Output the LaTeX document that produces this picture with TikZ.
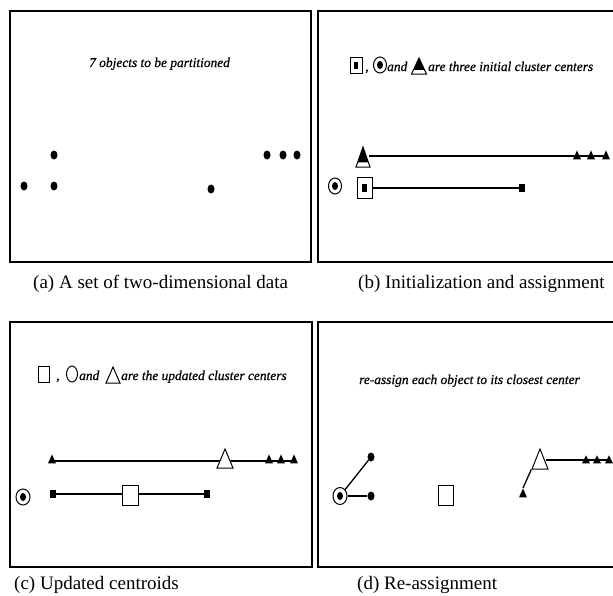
\documentclass[tikz,border=0pt]{standalone}
\usepackage{fontspec}
\setmainfont{Liberation Serif}
\newfontfamily\noteitfont[FakeBold=0.6]{Liberation Serif Italic}
\usetikzlibrary{shapes.geometric}
\begin{document}
\begin{tikzpicture}[x=1pt,y=-1pt,
  panel/.style={draw, line width=1.4pt},
  conn/.style={line width=1.3pt},
  note/.style={inner sep=0pt, anchor=base west, font=\fontsize{13.4}{15}\selectfont\noteitfont},
  capt/.style={inner sep=0pt, anchor=base west, font=\fontsize{19}{22}\selectfont},
  dot/.style={ellipse, fill=black, minimum width=7pt, minimum height=9pt, inner sep=0pt},
  sq/.style={rectangle, fill=black, minimum width=6pt, minimum height=8pt, inner sep=0pt},
  tri/.style={isosceles triangle, isosceles triangle apex angle=60, shape border rotate=90,
    isosceles triangle stretches, fill=black, minimum width=8pt, minimum height=9pt, inner sep=0pt, anchor=apex},
  bigtri/.style={tri, fill=white, draw, line width=1pt, minimum width=16pt, minimum height=19pt},
  bigsq/.style={rectangle, draw, line width=1pt, fill=white, minimum width=15pt, minimum height=20pt, inner sep=0pt},
  cdot/.style={ellipse, draw, line width=1pt, fill=white, minimum width=13pt, minimum height=16pt, inner sep=0pt,
    path picture={\fill[black] (path picture bounding box.center) ellipse [x radius=3pt, y radius=4pt];}},
  sqdot/.style={bigsq, minimum width=15pt, minimum height=21pt},
  sqin/.style={sq, minimum width=5pt, minimum height=8pt},
]
\useasboundingbox (0,0) rectangle (613,595);
\clip (0,0) rectangle (613,595);
\fill[white] (0,0) rectangle (613,595);

% panels
\draw[panel] (10,11) rectangle (311,262);
\draw[panel] (318,11) rectangle (625,262);
\draw[panel] (10,322) rectangle (312,567);
\draw[panel] (318,322) rectangle (625,567);

% captions
\node[capt] (capa) at (33,288) {(a) A set of two-dimensional data};
\node[capt] (capb) at (358,288) {(b) Initialization and assignment};
\node[capt] (capc) at (14,589) {(c) Updated centroids};
\node[capt] (capd) at (357,589) {(d) Re-assignment};

% ---------- panel (a)
\node[note] (ta) at (89,67) {7 objects to be partitioned};
\node[dot] (a1) at (24,186) {};
\node[dot] (a2) at (54,155) {};
\node[dot] (a3) at (54,186) {};
\node[dot] (a4) at (211,189) {};
\node[dot] (a5) at (267,155) {};
\node[dot] (a6) at (283,155) {};
\node[dot] (a7) at (297,155) {};

% ---------- panel (b)
\node[sqdot, minimum width=12pt, minimum height=16pt] (lbsq) at (356,65) {};
\node[sqin, minimum width=4.5pt, minimum height=7pt] (lbsqin) at (356,65) {};
\node[inner sep=0pt, anchor=base, font=\fontsize{13.4}{15}\selectfont\noteitfont] (lbcm) at (367,71) {,};
\node[cdot, minimum width=13pt, minimum height=16pt] (lbci) at (380,65) {};
\node[note] (lband) at (387,71) {and};
\node[bigtri, minimum width=15pt, minimum height=16pt] (lbtr) at (419,57) {};
\node[tri, minimum width=11pt, minimum height=11.5pt] (lbtri) at (419,58) {};
\node[note] (tb) at (428,71) {are three initial cluster centers};

\node[bigtri, minimum width=14pt, minimum height=20pt] (btr) at (363,146) {};
\node[tri, minimum width=10.5pt, minimum height=15pt] (btri) at (363,147) {};
\node[tri] (bt1) at (577,150) {};
\node[tri] (bt2) at (591,150) {};
\node[tri] (bt3) at (606,150) {};
\draw[conn] (btr.east |- 0,156) -- (bt3.center |- 0,156);
\node[cdot] (bci) at (335,186) {};
\node[sqdot] (bsq) at (364.5,187.5) {};
\node[sqin] (bsqin) at (364.5,187.5) {};
\node[sq] (bs1) at (522,188) {};
\draw[conn] (bsq.east |- 0,188) -- (bs1.west);

% ---------- panel (c)
\node[bigsq, minimum width=11pt, minimum height=16pt] (lcsq) at (44,374) {};
\node[inner sep=0pt, anchor=base, font=\fontsize{13.4}{15}\selectfont\noteitfont] (lccm) at (58,380) {,};
\node[ellipse, draw, line width=1pt, minimum width=11pt, minimum height=16pt, inner sep=0pt] (lcci) at (72,374) {};
\node[note] (lcand) at (79,380) {and};
\node[bigtri, minimum width=14pt, minimum height=16pt] (lctr) at (113,366) {};
\node[note] (tc) at (121,380) {are\ the updated cluster centers};

\node[tri] (ct0) at (52,454) {};
\node[tri] (ct1) at (269,454) {};
\node[tri] (ct2) at (281,454) {};
\node[tri] (ct3) at (294,454) {};
\draw[conn] (ct0.center |- 0,461) -- (ct3.center |- 0,461);
\node[bigtri] (ctr) at (225,448) {};
\node[cdot, minimum width=14pt] (cci) at (23,497) {};
\node[sq] (cs1) at (53,494) {};
\node[sq] (cs2) at (207,494) {};
\draw[conn] (cs1) -- (cs2);
\node[bigsq, minimum width=16pt] (csq) at (130,495) {};

% ---------- panel (d)
\node[note] (td) at (359,384) {re-assign each object to its closest center};
\node[cdot, minimum width=14pt, minimum height=17pt] (dci) at (340,496) {};
\node[dot] (d1) at (371,457) {};
\node[dot] (d2) at (371,496) {};
\draw[conn] (dci) -- (d1);
\draw[conn] (dci) -- (d2);
\node[bigsq] (dsq) at (446,495) {};
\node[tri, minimum height=8pt] (dt1) at (586,455) {};
\node[tri, minimum height=8pt] (dt2) at (597,455) {};
\node[tri, minimum height=8pt] (dt3) at (609,455) {};
\node[tri] (dt0) at (523,488) {};
\node[bigtri, minimum height=20pt] (dtr) at (540,448) {};
\draw[conn] (dtr.east |- 0,460) -- (dt3.center |- 0,460);
\draw[conn] (dt0.apex) -- (dtr.left corner);
\end{tikzpicture}
\end{document}
